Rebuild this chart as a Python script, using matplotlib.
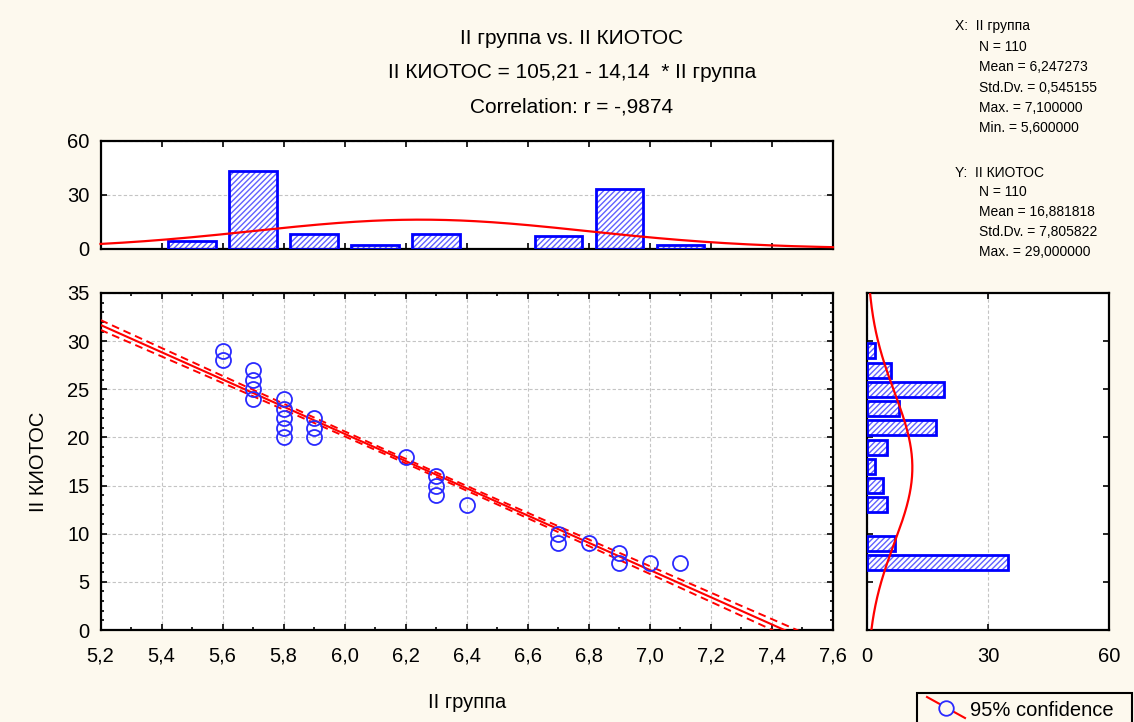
import numpy as np
import matplotlib
matplotlib.use("Agg")
import matplotlib.pyplot as plt
from matplotlib.patches import Rectangle
from matplotlib.lines import Line2D
from matplotlib.ticker import MultipleLocator, FixedLocator

plt.rcParams["font.family"] = ["Liberation Sans", "DejaVu Sans"]

# --- data -------------------------------------------------------------
x_label = "II группа"
y_label = "II КИОТОС"

# distinct (x, y) observations of the scatter
x_pts = [5.6, 5.6, 5.7, 5.7, 5.7, 5.7, 5.8, 5.8, 5.8, 5.8, 5.8, 5.9, 5.9, 5.9,
         6.2, 6.3, 6.3, 6.3, 6.4, 6.7, 6.7, 6.8, 6.9, 6.9, 7.0, 7.1]
y_pts = [29, 28, 27, 26, 25, 24, 24, 23, 22, 21, 20, 22, 21, 20,
         18, 16, 15, 14, 13, 10, 9, 9, 8, 7, 7, 7]

# marginal histograms
x_bin_centers = [5.5, 5.7, 5.9, 6.1, 6.3, 6.5, 6.7, 6.9, 7.1]
x_bin_counts = [4, 43, 8, 2, 8, 0, 7, 33, 2]
x_bin_width = 0.2
y_bin_centers = [7, 9, 11, 13, 15, 17, 19, 21, 23, 25, 27, 29]
y_bin_counts = [35, 7, 0, 5, 4, 2, 5, 17, 8, 19, 6, 2]
y_bin_width = 2.0

# regression and descriptive statistics
intercept = 105.21
slope = -14.14
r_value = -0.9874
n_obs = 110
x_mean, x_sd, x_max, x_min = 6.247273, 0.545155, 7.100000, 5.600000
y_mean, y_sd, y_max = 16.881818, 7.805822, 29.000000
t_crit = 1.982  # t(0.975, n-2)

x_ticks = [5.2, 5.4, 5.6, 5.8, 6.0, 6.2, 6.4, 6.6, 6.8, 7.0, 7.2, 7.4, 7.6]
y_ticks = [0, 5, 10, 15, 20, 25, 30, 35]
hist_ticks = [0, 30, 60]


def comma(v, nd):
    return f"{v:.{nd}f}".replace(".", ",")


def nonzero(centers, counts):
    pairs = [(c, k) for c, k in zip(centers, counts) if k > 0]
    return [p[0] for p in pairs], [p[1] for p in pairs]


# --- figure layout (pixel based) ---------------------------------------
W, H = 1134, 722
BG = "#FDF9EE"
fig = plt.figure(figsize=(W / 100, H / 100), dpi=100, facecolor=BG)


def px_axes(x0, y0, x1, y1):
    return fig.add_axes([x0 / W, 1 - y1 / H, (x1 - x0) / W, (y1 - y0) / H])


ax = px_axes(100.5, 293, 833, 630)
axt = px_axes(100.5, 141, 833, 248.5)
axr = px_axes(867, 293, 1109, 630)

BLUE = "#0000FF"
HATCH = "#6060ff"
RED = "#FF0000"
GRID = dict(color="#c4c4c4", linestyle=(0, (3, 2)), linewidth=0.8)
TICK_FS = 14.5

for a in (ax, axt, axr):
    a.set_facecolor("white")
    for s in a.spines.values():
        s.set_linewidth(1.6)
        s.set_color("black")
    a.tick_params(which="both", direction="in", top=True, right=True,
                  width=1.2, labelsize=TICK_FS, pad=8)
    a.tick_params(which="major", length=4)
    a.tick_params(which="minor", length=2.5)
    a.set_axisbelow(True)

# --- main scatter ------------------------------------------------------
ax.set_xlim(5.2, 7.6)
ax.set_ylim(0, 35)
ax.xaxis.set_major_locator(FixedLocator(x_ticks))
ax.set_xticklabels([comma(v, 1) for v in x_ticks])
ax.xaxis.set_minor_locator(MultipleLocator(0.1))
ax.yaxis.set_major_locator(FixedLocator(y_ticks))
ax.set_yticklabels([str(v) for v in y_ticks])
ax.yaxis.set_minor_locator(MultipleLocator(1))
ax.tick_params(axis="x", pad=12)
ax.grid(True, which="major", **GRID)

xs = np.linspace(5.2, 7.6, 400)
fit = intercept + slope * xs
s_res = y_sd * np.sqrt((1 - r_value ** 2) * (n_obs - 1) / (n_obs - 2))
sxx = (n_obs - 1) * x_sd ** 2
half = t_crit * s_res * np.sqrt(1 / n_obs + (xs - x_mean) ** 2 / sxx)
ax.plot(xs, fit, color=RED, lw=1.5, zorder=3)
ax.plot(xs, fit + half, color=RED, lw=1.4, ls=(0, (4, 2.5)), zorder=3)
ax.plot(xs, fit - half, color=RED, lw=1.4, ls=(0, (4, 2.5)), zorder=3)
ax.plot(x_pts, y_pts, ls="none", marker="o", ms=10.8, mfc="none",
        mec="#2a2aff", mew=1.3, zorder=4)

ax.set_xlabel(x_label, fontsize=TICK_FS, labelpad=20)
ax.set_ylabel(y_label, fontsize=TICK_FS, labelpad=14)

# --- top histogram (x) -------------------------------------------------
axt.set_xlim(5.2, 7.6)
axt.set_ylim(0, 60)
axt.xaxis.set_major_locator(FixedLocator(x_ticks))
axt.tick_params(axis="x", labelbottom=False)
axt.yaxis.set_major_locator(FixedLocator(hist_ticks))
axt.set_yticklabels([str(v) for v in hist_ticks])
axt.grid(True, axis="y", **GRID)
xc, xk = nonzero(x_bin_centers, x_bin_counts)
bw = x_bin_width * 0.78
axt.bar(xc, xk, width=bw, color="white", hatch="//////",
        edgecolor=HATCH, linewidth=0, zorder=2)
axt.bar(xc, xk, width=bw, color="none", edgecolor=BLUE, linewidth=2.0, zorder=3)
gx = np.linspace(5.2, 7.6, 300)
gy = n_obs * x_bin_width * np.exp(-0.5 * ((gx - x_mean) / x_sd) ** 2) / (x_sd * np.sqrt(2 * np.pi))
axt.plot(gx, gy, color=RED, lw=1.6, zorder=4, clip_on=False)

# --- right histogram (y) -----------------------------------------------
axr.set_xlim(0, 60)
axr.set_ylim(0, 35)
axr.xaxis.set_major_locator(FixedLocator(hist_ticks))
axr.set_xticklabels([str(v) for v in hist_ticks])
axr.yaxis.set_major_locator(FixedLocator(y_ticks))
axr.tick_params(axis="y", labelleft=False)
axr.tick_params(axis="x", pad=12)
axr.grid(True, axis="x", **GRID)
yc, yk = nonzero(y_bin_centers, y_bin_counts)
bh = y_bin_width * 0.78
axr.barh(yc, yk, height=bh, color="white", hatch="//////",
         edgecolor=HATCH, linewidth=0, zorder=2)
axr.barh(yc, yk, height=bh, color="none", edgecolor=BLUE, linewidth=2.0, zorder=3)
gyv = np.linspace(0, 35, 300)
gxv = n_obs * y_bin_width * np.exp(-0.5 * ((gyv - y_mean) / y_sd) ** 2) / (y_sd * np.sqrt(2 * np.pi))
axr.plot(gxv, gyv, color=RED, lw=1.6, zorder=4)

# --- titles --------------------------------------------------------------
TITLE_FS = 15
cx = 572
fig.text(cx / W, 1 - 38 / H, f"{x_label} vs. {y_label}", ha="center", va="center", fontsize=TITLE_FS)
fig.text(cx / W, 1 - 73 / H,
         f"{y_label} = {comma(intercept, 2)} - {comma(abs(slope), 2)}  * {x_label}",
         ha="center", va="center", fontsize=TITLE_FS)
fig.text(cx / W, 1 - 107 / H, "Correlation: r = -" + comma(abs(r_value), 4)[1:],
         ha="center", va="center", fontsize=TITLE_FS)

# --- descriptive statistics block ----------------------------------------
STAT_FS = 10
stat_lines = [
    (955, 26, f"X:  {x_label}"),
    (979, 46.7, f"N = {n_obs}"),
    (979, 66.7, f"Mean = {comma(x_mean, 6)}"),
    (979, 88, f"Std.Dv. = {comma(x_sd, 6)}"),
    (979, 108, f"Max. = {comma(x_max, 6)}"),
    (979, 128, f"Min. = {comma(x_min, 6)}"),
    (955, 173, f"Y:  {y_label}"),
    (979, 192, f"N = {n_obs}"),
    (979, 212, f"Mean = {comma(y_mean, 6)}"),
    (979, 232, f"Std.Dv. = {comma(y_sd, 6)}"),
    (979, 252, f"Max. = {comma(y_max, 6)}"),
]
for px, py, txt in stat_lines:
    fig.text(px / W, 1 - py / H, txt, ha="left", va="center", fontsize=STAT_FS)

# --- legend box -----------------------------------------------------------
fig.add_artist(Rectangle((917 / W, 1 - 740 / H), (1132 - 917) / W, (740 - 693) / H,
                         transform=fig.transFigure, facecolor=BG,
                         edgecolor="black", linewidth=1.5))
fig.add_artist(Line2D([927 / W, 965 / W], [1 - 697 / H, 1 - 718 / H],
                      transform=fig.transFigure, color=RED, lw=1.5))
fig.add_artist(Line2D([946 / W], [1 - 707.5 / H], transform=fig.transFigure,
                      ls="none", marker="o", ms=10.5, mfc=BG, mec="#2a2aff", mew=1.3))
fig.text(970 / W, 1 - 710 / H, "95% confidence", ha="left", va="center", fontsize=TICK_FS)

fig.savefig("out.png", dpi=100, facecolor=BG)
